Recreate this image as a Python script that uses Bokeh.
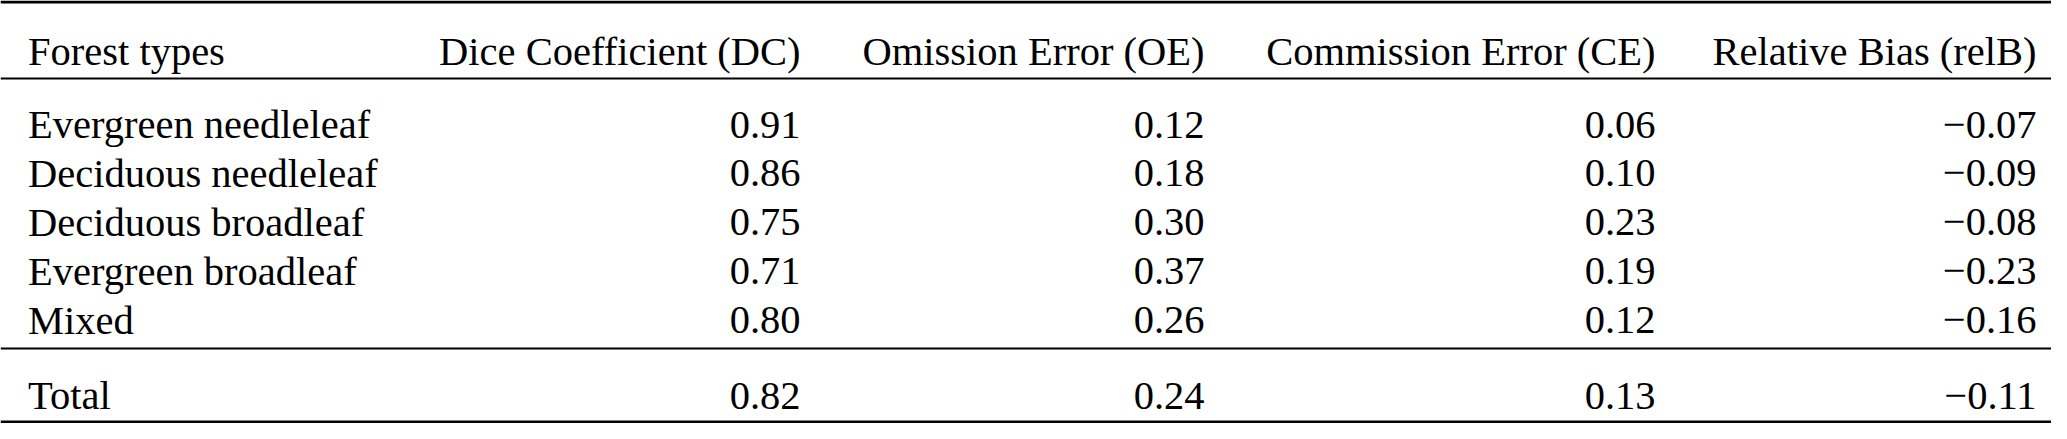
from bokeh.plotting import figure
from bokeh.models import ColumnDataSource, Range1d
from bokeh.core.properties import value
from bokeh.embed import file_html
from bokeh.resources import INLINE

# ---- data ----
headers = ["Forest types", "Dice Coefficient (DC)", "Omission Error (OE)",
           "Commission Error (CE)", "Relative Bias (relB)"]
forest_types = ["Evergreen needleleaf", "Deciduous needleleaf", "Deciduous broadleaf",
                "Evergreen broadleaf", "Mixed"]
dc = [0.91, 0.86, 0.75, 0.71, 0.80]
oe = [0.12, 0.18, 0.30, 0.37, 0.26]
ce = [0.06, 0.10, 0.23, 0.19, 0.12]
relb = [-0.07, -0.09, -0.08, -0.23, -0.16]
total_label = "Total"
total_values = [0.82, 0.24, 0.13, -0.11]

# ---- layout (pixel-like units, y pointing down) ----
W, H = 2051, 423
FONT = value("Liberation Serif")
FSIZE = "40.5px"
col_x = [27.5, 800, 1204, 1655, 2036]
header_y = 50.5
row_y0, row_step = 124, 48.9
total_y = 395
thick_rules = [1.5, 421.5]
thin_rules = [78, 348]


def fmt(v):
    s = f"{v:.2f}"
    return s.replace("-", "\u2212")


p = figure(width=W, height=H, x_range=Range1d(0, W), y_range=Range1d(H, 0),
           output_backend="svg", toolbar_location=None,
           x_axis_type=None, y_axis_type=None, min_border=0)
p.grid.visible = False
p.outline_line_color = None
p.background_fill_color = "white"
p.border_fill_color = "white"

# rules (booktabs style)
p.segment(x0=[0] * len(thick_rules), x1=[W] * len(thick_rules), y0=thick_rules, y1=thick_rules,
          line_width=3, line_color="black")
p.segment(x0=[0] * len(thin_rules), x1=[W] * len(thin_rules), y0=thin_rules, y1=thin_rules,
          line_width=2, line_color="black")

# left column texts
left_txt = [headers[0]] + forest_types + [total_label]
left_y = [header_y] + [row_y0 + i * row_step for i in range(len(forest_types))] + [total_y]
src_left = ColumnDataSource(dict(x=[col_x[0]] * len(left_txt), y=left_y, t=left_txt))
p.text(x="x", y="y", text="t", source=src_left, text_font=FONT, text_font_size=FSIZE,
       text_align="left", text_baseline="alphabetic", text_color="black")

# numeric columns (right aligned)
xs, ys, ts = [], [], []
for j, col in enumerate([dc, oe, ce, relb]):
    cx = col_x[j + 1]
    xs.append(cx); ys.append(header_y); ts.append(headers[j + 1])
    for i, v in enumerate(col):
        xs.append(cx); ys.append(row_y0 + i * row_step); ts.append(fmt(v))
    xs.append(cx); ys.append(total_y); ts.append(fmt(total_values[j]))
src_num = ColumnDataSource(dict(x=xs, y=ys, t=ts))
p.text(x="x", y="y", text="t", source=src_num, text_font=FONT, text_font_size=FSIZE,
       text_align="right", text_baseline="alphabetic", text_color="black")

open("out.html", "w").write(file_html(p, INLINE))
